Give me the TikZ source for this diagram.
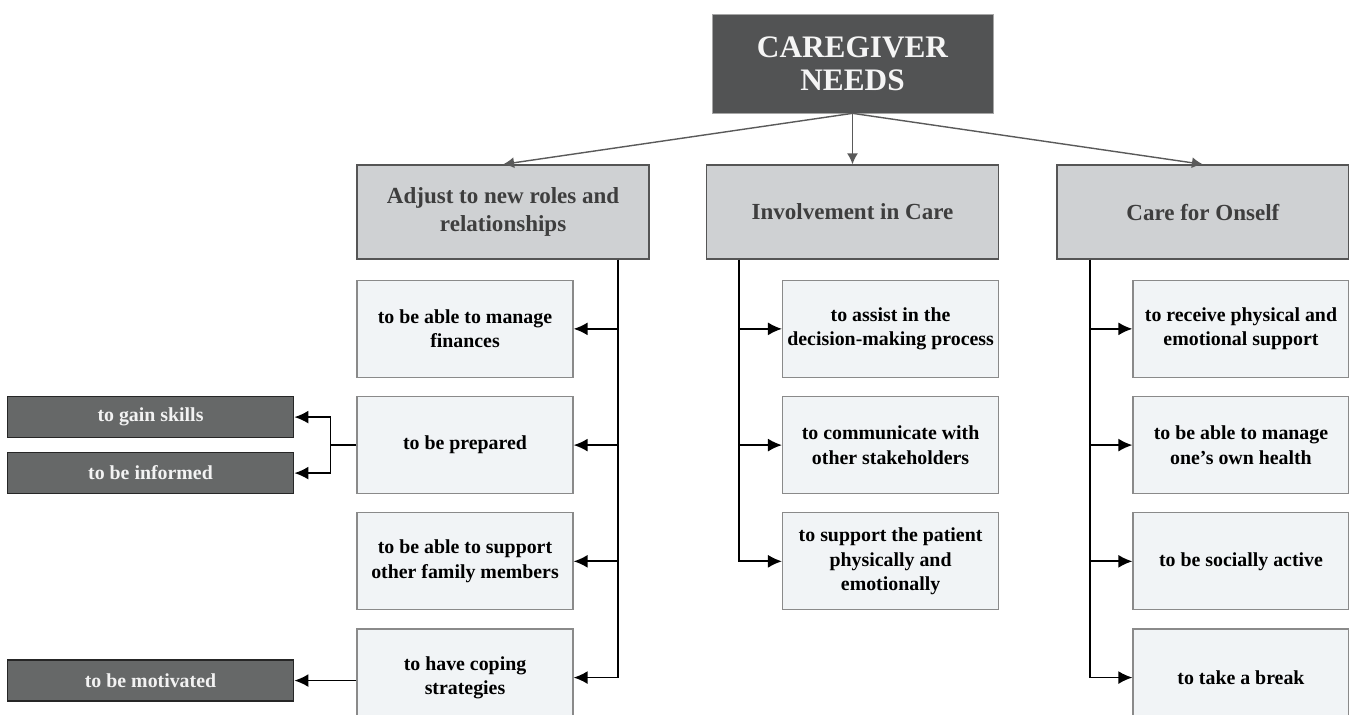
\documentclass[tikz,border=0pt]{standalone}
\usepackage{fontspec}
\setmainfont{Liberation Serif}
\usetikzlibrary{positioning,arrows.meta}
\definecolor{topfill}{HTML}{525354}
\definecolor{catfill}{HTML}{CFD1D3}
\definecolor{catline}{HTML}{555555}
\definecolor{cattext}{HTML}{3E3E3E}
\definecolor{needfill}{HTML}{F1F4F6}
\definecolor{needline}{HTML}{8A8A8A}
\definecolor{extrafill}{HTML}{666868}
\definecolor{arrowgray}{HTML}{5A5A5A}
\tikzset{
  topbox/.style={draw=gray!70, fill=topfill, text=white!96!black, inner sep=0pt, minimum width=5.62cm, minimum height=1.98cm, align=center, font=\fontsize{17.8}{19}\selectfont\bfseries},
  catbox/.style={draw=catline, fill=catfill, text=cattext, line width=0.8pt, inner sep=0pt, minimum width=5.84cm, minimum height=1.88cm, align=center, font=\fontsize{13.1}{16.4}\selectfont\bfseries},
  needbox/.style={draw=needline, fill=needfill, line width=0.7pt, inner sep=0pt, minimum width=4.32cm, minimum height=1.94cm, align=center, font=\fontsize{11.3}{13.8}\selectfont\bfseries},
  extrabox/.style={draw=black!85, fill=extrafill, text=white!95!black, line width=1pt, inner sep=0pt, minimum width=5.72cm, minimum height=0.82cm, align=center, font=\fontsize{11.3}{12}\selectfont\bfseries},
  down/.style={-{Latex[length=2.2mm,width=2.2mm]}, draw=arrowgray, line width=0.8pt},
  link/.style={-{Latex[length=2.8mm,width=2.6mm]}, line width=1pt},
}
\begin{document}
\begin{tikzpicture}
  \path[use as bounding box, clip] (0,0) rectangle (26.98,-14.3);

  \node[topbox] (needs) at (17.05,-1.27) {CAREGIVER\\NEEDS};
  \node[catbox] (involve) [below=1.02cm of needs] {Involvement in Care};
  \node[catbox] (adjust) [left=1.12cm of involve] {Adjust to new roles and\\relationships};
  \node[catbox] (self) [right=1.14cm of involve] {Care for Onself};

  \node[needbox] (adj1) [below right=0.40cm and 0cm of adjust.south west] {to be able to manage\\finances};
  \node[needbox] (adj2) [below=0.36cm of adj1] {to be prepared};
  \node[needbox] (adj3) [below=0.36cm of adj2] {to be able to support\\other family members};
  \node[needbox] (adj4) [below=0.36cm of adj3] {to have coping\\strategies};

  \node[needbox] (inv1) [below left=0.40cm and 0cm of involve.south east] {to assist in the\\decision-making process};
  \node[needbox] (inv2) [below=0.36cm of inv1] {to communicate with\\other stakeholders};
  \node[needbox] (inv3) [below=0.36cm of inv2] {to support the patient\\physically and\\emotionally};

  \node[needbox] (self1) [below left=0.40cm and 0cm of self.south east] {to receive physical and\\emotional support};
  \node[needbox] (self2) [below=0.36cm of self1] {to be able to manage\\one’s own health};
  \node[needbox] (self3) [below=0.36cm of self2] {to be socially active};
  \node[needbox] (self4) [below=0.36cm of self3] {to take a break};

  \node[extrabox] (gain) [left=1.24cm of adj2, yshift=0.56cm] {to gain skills};
  \node[extrabox] (informed) [left=1.24cm of adj2, yshift=-0.56cm] {to be informed};
  \node[extrabox] (motivated) [left=1.24cm of adj4, yshift=-0.06cm] {to be motivated};

  \coordinate (adjspine) at ([xshift=-0.64cm]adjust.south east);
  \coordinate (invspine) at ([xshift=0.66cm]involve.south west);
  \coordinate (selfspine) at ([xshift=0.68cm]self.south west);
  \coordinate (prepsplit) at ([xshift=-0.52cm]adj2.west);

  \draw[down] (needs.south) -- (adjust.north);
  \draw[down] (needs.south) -- (involve.north);
  \draw[down] (needs.south) -- (self.north);

  \draw[link] (adjspine) |- (adj1.east);
  \draw[link] (adjspine) |- (adj2.east);
  \draw[link] (adjspine) |- (adj3.east);
  \draw[link] (adjspine) |- (adj4.east);

  \draw[link] (invspine) |- (inv1.west);
  \draw[link] (invspine) |- (inv2.west);
  \draw[link] (invspine) |- (inv3.west);

  \draw[link] (selfspine) |- (self1.west);
  \draw[link] (selfspine) |- (self2.west);
  \draw[link] (selfspine) |- (self3.west);
  \draw[link] (selfspine) |- (self4.west);

  \draw[line width=1pt] (adj2.west) -- (prepsplit);
  \draw[link] (prepsplit) |- (gain.east);
  \draw[link] (prepsplit) |- (informed.east);
  \draw[link] (adj4.west |- motivated.east) -- (motivated.east);
\end{tikzpicture}
\end{document}
